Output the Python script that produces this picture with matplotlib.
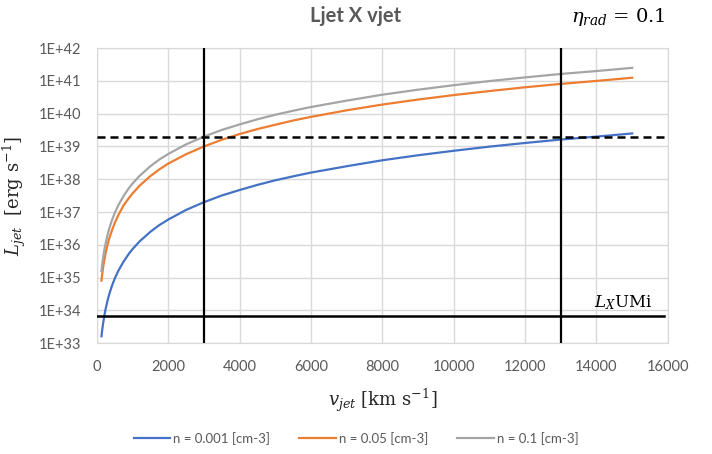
import math

import matplotlib

matplotlib.use("Agg")
import matplotlib.pyplot as plt  # noqa: E402
from matplotlib.ticker import FixedLocator, FuncFormatter  # noqa: E402

plt.rcParams["mathtext.fontset"] = "dejavuserif"

# jet velocity (km/s) and jet luminosity (erg/s)
v_jet = [130, 150, 180, 210, 250, 300, 350, 420, 500, 600, 750, 900, 1000,
         1200, 1500, 1750, 2000, 2500, 3000, 3500, 4000, 4500, 5000, 5500,
         6000, 7000, 8000, 9000, 10000, 11000, 12000, 13000, 14000, 15000]
L_n0001 = [1.63e33, 2.5e33, 4.3e33, 6.9e33, 1.16e34, 2.0e34, 3.2e34, 5.5e34,
           9.3e34, 1.6e35, 3.1e35, 5.4e35, 7.4e35, 1.28e36, 2.5e36, 4.0e36,
           5.9e36, 1.16e37, 2.0e37, 3.2e37, 4.7e37, 6.75e37, 9.3e37, 1.23e38,
           1.6e38, 2.5e38, 3.8e38, 5.4e38, 7.4e38, 9.9e38, 1.28e39, 1.63e39,
           2.0e39, 2.5e39]
L_n005 = [8.1e34, 1.25e35, 2.2e35, 3.4e35, 5.8e35, 1.0e36, 1.6e36, 2.7e36,
          4.6e36, 8.0e36, 1.6e37, 2.7e37, 3.7e37, 6.4e37, 1.25e38, 2.0e38,
          3.0e38, 5.8e38, 1.0e39, 1.6e39, 2.4e39, 3.4e39, 4.6e39, 6.2e39,
          8.0e39, 1.27e40, 1.9e40, 2.7e40, 3.7e40, 4.9e40, 6.4e40, 8.1e40,
          1.0e41, 1.25e41]
L_n01 = [1.6e35, 2.5e35, 4.3e35, 6.9e35, 1.16e36, 2.0e36, 3.2e36, 5.5e36,
         9.3e36, 1.6e37, 3.1e37, 5.4e37, 7.4e37, 1.28e38, 2.5e38, 4.0e38,
         5.9e38, 1.16e39, 2.0e39, 3.2e39, 4.7e39, 6.75e39, 9.3e39, 1.23e40,
         1.6e40, 2.5e40, 3.8e40, 5.4e40, 7.4e40, 9.9e40, 1.28e41, 1.63e41,
         2.0e41, 2.5e41]
series_labels = ["n = 0.001 [cm-3]", "n = 0.05 [cm-3]", "n = 0.1 [cm-3]"]
series_colors = ["#4472C4", "#ED7D31", "#A5A5A5"]

v_marks = [3000, 13000]      # vertical reference lines
L_dashed = 2.0e39            # dashed horizontal reference
L_x_umi = 6.8e33             # L_X UMi level

x_ticks = list(range(0, 16001, 2000))
y_exps = list(range(33, 43))

TXT = "#595959"
SANS = "Lato"

fig = plt.figure(figsize=(7.12, 4.54), dpi=100)
ax = fig.add_axes([0.136, 0.244, 0.802, 0.650])

for ys, lab, col in zip([L_n0001, L_n005, L_n01], series_labels, series_colors):
    ax.plot(v_jet, ys, color=col, lw=1.6, label=lab, zorder=3,
            solid_joinstyle="round")

for v in v_marks:
    ax.axvline(v, color="black", lw=1.6, zorder=4)
ax.plot([0, 15900], [L_dashed, L_dashed], color="black", lw=1.8,
        dashes=(3.2, 2.0), zorder=4)
ax.plot([0, 15900], [L_x_umi, L_x_umi], color="black", lw=1.8, zorder=4)
ax.text(14750, L_x_umi * 1.35, r"$L_X$UMi", fontsize=12, color="black",
        ha="center", va="bottom", family="DejaVu Serif")

ax.set_yscale("log")
ax.set_xlim(0, 16000)
ax.set_ylim(1e33, 1e42)
ax.xaxis.set_major_locator(FixedLocator(x_ticks))
ax.yaxis.set_major_locator(FixedLocator([10.0 ** e for e in y_exps]))
ax.yaxis.set_minor_locator(FixedLocator([]))
ax.yaxis.set_major_formatter(FuncFormatter(lambda y, _: f"1E+{round(math.log10(y))}"))
ax.tick_params(length=0, labelsize=10.5, labelcolor=TXT)
ax.tick_params(axis="y", pad=11)
ax.tick_params(axis="x", pad=12)
for lab in ax.get_xticklabels() + ax.get_yticklabels():
    lab.set_family(SANS)
ax.grid(True, color="#D9D9D9", lw=1.0, zorder=0)
for s in ax.spines.values():
    s.set_color("#D9D9D9")

ax.set_xlabel(r"$v_{jet}$ [km s$^{-1}$]", fontsize=13, color="#262626",
              family="DejaVu Serif", labelpad=9)
ax.set_ylabel(r"$L_{jet}$  [erg s$^{-1}$]", fontsize=13, color="#262626",
              family="DejaVu Serif", labelpad=8)

fig.text(0.5, 0.965, "Ljet X vjet", ha="center", va="center", fontsize=14.5,
         fontweight="bold", color=TXT, family=SANS)
fig.text(0.935, 0.962, r"$\eta_{rad}$ = 0.1", ha="right", va="center",
         fontsize=14, color="black", family="DejaVu Serif")

fig.legend(loc="center", bbox_to_anchor=(0.5, 0.035), ncol=3, frameon=False,
           prop={"family": SANS, "size": 9.5}, labelcolor=TXT,
           handlelength=2.8, columnspacing=2.2, handletextpad=0.2)

fig.savefig("out.png", dpi=100)
